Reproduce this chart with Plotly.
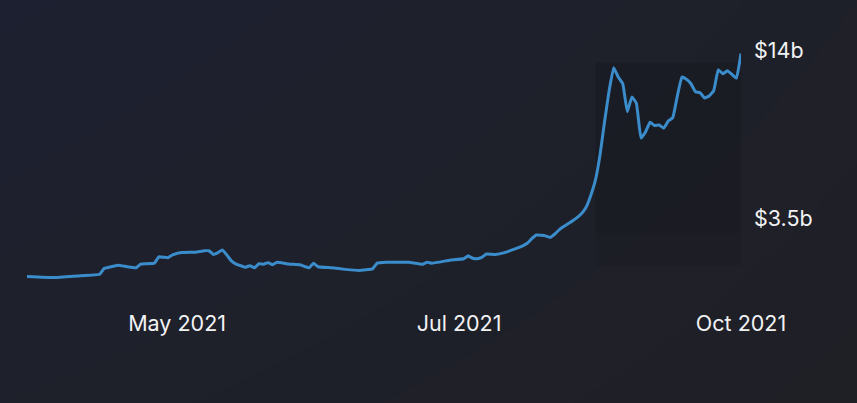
import plotly.graph_objects as go

# ---- data (values in billions USD) ----
dates = [
    "2021-04-27", "2021-05-03", "2021-05-08", "2021-05-13", "2021-05-14", "2021-05-15",
    "2021-05-17", "2021-05-19", "2021-05-21", "2021-05-22", "2021-05-23", "2021-05-25",
    "2021-05-26", "2021-05-28", "2021-05-29", "2021-05-31", "2021-06-03", "2021-06-05",
    "2021-06-06", "2021-06-07", "2021-06-08", "2021-06-09", "2021-06-10", "2021-06-11",
    "2021-06-12", "2021-06-13", "2021-06-14", "2021-06-15", "2021-06-16", "2021-06-17",
    "2021-06-18", "2021-06-19", "2021-06-20", "2021-06-21", "2021-06-22", "2021-06-23",
    "2021-06-24", "2021-06-26", "2021-06-28", "2021-06-29", "2021-06-30", "2021-07-03",
    "2021-07-06", "2021-07-09", "2021-07-12", "2021-07-13", "2021-07-15", "2021-07-18",
    "2021-07-20", "2021-07-23", "2021-07-24", "2021-07-25", "2021-07-29", "2021-08-01",
    "2021-08-02", "2021-08-03", "2021-08-04", "2021-08-05", "2021-08-06", "2021-08-08",
    "2021-08-10", "2021-08-12", "2021-08-14", "2021-08-15", "2021-08-16", "2021-08-17",
    "2021-08-19", "2021-08-20", "2021-08-21", "2021-08-22", "2021-08-23", "2021-08-25",
    "2021-08-27", "2021-08-28", "2021-08-29", "2021-08-30", "2021-08-31", "2021-09-01",
    "2021-09-02", "2021-09-03", "2021-09-04", "2021-09-05", "2021-09-06", "2021-09-07",
    "2021-09-08", "2021-09-09", "2021-09-10", "2021-09-11", "2021-09-12", "2021-09-13",
    "2021-09-14", "2021-09-15", "2021-09-16", "2021-09-17", "2021-09-18", "2021-09-19",
    "2021-09-20", "2021-09-21", "2021-09-22", "2021-09-23", "2021-09-24", "2021-09-25",
    "2021-09-26", "2021-09-27", "2021-09-28", "2021-09-29", "2021-09-30", "2021-10-01",
]
tvl_billions = [
    2.16, 2.14, 2.17, 2.20, 2.31, 2.33,
    2.37, 2.34, 2.32, 2.39, 2.40, 2.41,
    2.54, 2.52, 2.58, 2.63, 2.64, 2.67,
    2.67, 2.59, 2.63, 2.69, 2.57, 2.45,
    2.39, 2.36, 2.33, 2.36, 2.32, 2.40,
    2.39, 2.42, 2.38, 2.43, 2.42, 2.40,
    2.39, 2.38, 2.32, 2.41, 2.34, 2.32,
    2.29, 2.27, 2.30, 2.41, 2.43, 2.43,
    2.43, 2.39, 2.43, 2.41, 2.47, 2.50,
    2.56, 2.51, 2.50, 2.53, 2.60, 2.59,
    2.63, 2.70, 2.78, 2.84, 2.95, 3.04,
    3.02, 2.98, 3.06, 3.17, 3.26, 3.42,
    3.64, 3.84, 4.23, 4.79, 5.89, 7.75,
    10.0, 12.1, 11.2, 10.6, 8.41, 9.50,
    9.02, 6.77, 7.12, 7.71, 7.50, 7.54,
    7.34, 7.79, 8.01, 9.58, 11.2, 11.0,
    10.6, 9.92, 9.84, 9.42, 9.58, 10.0,
    11.9, 11.5, 11.8, 11.45, 11.1, 13.6,
]

x_tick_dates = ["2021-05-30", "2021-07-31", "2021-10-01"]
x_tick_labels = ["May 2021", "Jul 2021", "Oct 2021"]
y_tick_values = [3.5, 14]
y_tick_labels = ["$3.5b", "$14b"]

# shaded recent period (subtle darker band)
band_start = "2021-08-30"
band_end = dates[-1]
band_levels = [12.6, 3.08, 2.37]   # top, mid step, bottom (billions)

BG_TL = "#1d2030"
BG_BR = "#1f2026"
LINE = "#3b8ccb"
TEXT = "#f2f2f4"

W, H = 857, 403
PL, PR, PT, PB = 27, 741, 40, 290   # plot area in pixels

fig = go.Figure()

# background gradient (full-paper heatmap)
fig.add_trace(go.Heatmap(
    z=[[0.55, 1.0], [0.0, 0.75]], x=[0, 1], y=[0, 1],
    colorscale=[[0, BG_TL], [1, BG_BR]], zsmooth="best",
    showscale=False, hoverinfo="skip", xaxis="x", yaxis="y",
))

# shaded band (two layers for a soft fade toward the bottom)
fig.add_trace(go.Scatter(
    x=[band_start, band_end, band_end, band_start, band_start],
    y=[band_levels[1], band_levels[1], band_levels[0], band_levels[0], band_levels[1]],
    mode="none", fill="toself", fillcolor="rgba(0,0,0,0.10)",
    hoverinfo="skip", showlegend=False, xaxis="x2", yaxis="y2",
))
fig.add_trace(go.Scatter(
    x=[band_start, band_end, band_end, band_start, band_start],
    y=[band_levels[2], band_levels[2], band_levels[1], band_levels[1], band_levels[2]],
    mode="none", fill="toself", fillcolor="rgba(0,0,0,0.05)",
    hoverinfo="skip", showlegend=False, xaxis="x2", yaxis="y2",
))

# main line
fig.add_trace(go.Scatter(
    x=dates, y=tvl_billions, mode="lines",
    line=dict(color=LINE, width=3, shape="spline", smoothing=0.3),
    hoverinfo="skip", showlegend=False, xaxis="x2", yaxis="y2",
))

fig.update_layout(
    template="none",
    width=W, height=H,
    margin=dict(l=0, r=0, t=0, b=0, pad=0),
    paper_bgcolor=BG_BR, plot_bgcolor="rgba(0,0,0,0)",
    font=dict(family="Inter, 'Noto Sans', sans-serif", size=21.5, color=TEXT),
    showlegend=False,
    xaxis=dict(domain=[0, 1], range=[0, 1], visible=False, fixedrange=True,
               automargin=False),
    yaxis=dict(domain=[0, 1], range=[0, 1], visible=False, fixedrange=True,
               automargin=False),
    xaxis2=dict(
        domain=[PL / W, PR / W], anchor="y2", automargin=False,
        type="date", range=["2021-04-27", "2021-10-01"],
        tickvals=x_tick_dates, ticktext=x_tick_labels,
        showgrid=False, zeroline=False, showline=False, ticks="",
        ticklabelstandoff=18, fixedrange=True,
    ),
    yaxis2=dict(
        domain=[1 - PB / H, 1 - PT / H], anchor="x2", automargin=False,
        type="log", range=[0.2859, 1.1820], side="right",
        tickvals=y_tick_values, ticktext=y_tick_labels,
        showgrid=False, zeroline=False, showline=False, ticks="",
        ticklabelstandoff=12, fixedrange=True,
    ),
)

fig.write_html("out.html", config={"displayModeBar": False, "staticPlot": True},
               post_script="document.body.style.margin='0';")
